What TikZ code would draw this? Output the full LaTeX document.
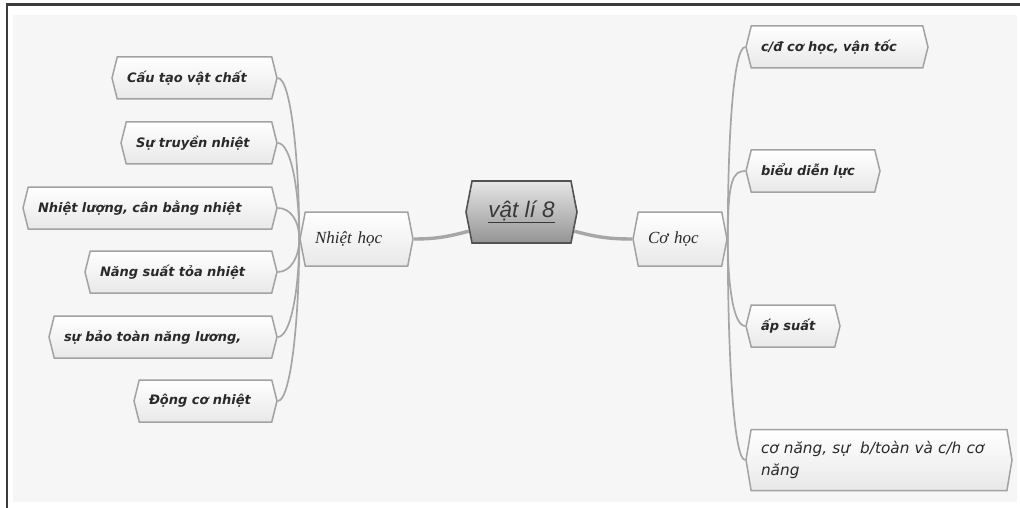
\documentclass[tikz,border=0pt]{standalone}
\usepackage{fontspec}
\usetikzlibrary{shapes.symbols}
\newfontfamily\kidfont{DejaVu Sans}
\newfontfamily\serifit{Liberation Serif}
\newfontfamily\titlefont{Liberation Sans}
\definecolor{panel}{HTML}{F6F6F6}
\definecolor{frame}{HTML}{3C3C3C}
\definecolor{linkc}{HTML}{A6A6A6}
\definecolor{boxline}{HTML}{A2A2A2}
\definecolor{txt}{HTML}{2A2A2A}
\tikzset{
  hexbase/.style={signal, signal to=west and east, inner sep=0pt,
    draw=boxline, line width=1.5pt, top color=white, bottom color=black!9,
    text=txt, align=left},
  child/.style={hexbase, signal pointer angle=152, minimum height=42pt,
    font=\kidfont\bfseries\itshape\fontsize{13}{15}\selectfont},
  branch/.style={hexbase, signal pointer angle=158, minimum height=54pt,
    font=\serifit\itshape\fontsize{17}{20}\selectfont},
  rootbox/.style={signal, signal to=west and east, inner sep=0pt,
    signal pointer angle=158, minimum height=62pt, minimum width=111pt,
    draw=black!68, line width=1.6pt, top color=black!10, bottom color=black!42,
    text=black!78, font=\titlefont\itshape\fontsize{22.5}{26}\selectfont},
  link/.style={draw=linkc, line width=1.7pt},
  mainlink/.style={draw=linkc, line width=3.4pt}
}
\begin{document}
\begin{tikzpicture}[x=1pt,y=1pt]
\useasboundingbox (0,0) rectangle (1020,-508);
\fill[white] (0,0) rectangle (1020,-508);
\fill[panel] (13,-15) rectangle (1017,-502);
\draw[frame, line width=2.5pt] (7,-508) -- (7,-4.5) -- (1020,-4.5);

% root and branches
\node[rootbox] (C) at (521.5,-212) {\underline{vật lí 8}};
\node[branch, minimum width=113pt, text width=83pt] (NH) at (356.5,-239) {Nhiệt học};
\node[branch, minimum width=94pt, text width=64pt] (CH) at (680,-239) {Cơ học};

% left children
\node[child, minimum width=165pt, text width=135pt] (L1) at (194.5,-78) {Cấu tạo vật chất};
\node[child, minimum width=156pt, text width=126pt] (L2) at (199,-143) {Sự truyền nhiệt};
\node[child, minimum width=254pt, text width=224pt] (L3) at (150,-208) {Nhiệt lượng, cân bằng nhiệt};
\node[child, minimum width=192pt, text width=162pt] (L4) at (181,-272) {Năng suất tỏa nhiệt};
\node[child, minimum width=228pt, text width=198pt] (L5) at (163,-337) {sự bảo toàn năng lương,};
\node[child, minimum width=143pt, text width=113pt] (L6) at (205.5,-401) {Động cơ nhiệt};

% right children
\node[child, minimum width=182pt, text width=152pt] (R1) at (837,-47) {c/đ cơ học, vận tốc};
\node[child, minimum width=134pt, text width=104pt] (R2) at (813,-171) {biểu diễn lực};
\node[child, minimum width=94pt, text width=64pt] (R3) at (793,-326) {ấp suất};
\node[child, signal pointer angle=161, minimum height=61pt, minimum width=266pt, text width=236pt,
  font=\kidfont\itshape\fontsize{15.3}{22}\selectfont] (R4) at (879,-460)
  {cơ năng, sự~ b/toàn và c/h cơ\\năng};

% connectors
\draw[mainlink] (NH.east) to[out=0, in=195] (C.200);
\draw[mainlink] (C.340) to[out=-15, in=180] (CH.west);

\foreach \n/\v in {L1/80, L2/50, L3/18, L4/-18, L5/-50, L6/-80}
  \draw[link] (\n.east) .. controls +(13,0) and +(0,\v) .. (NH.west);
\foreach \n/\v in {R1/100, R2/60, R3/-45, R4/-110}
  \draw[link] (CH.east) .. controls +(0,\v) and +(-12,0) .. (\n.west);
\end{tikzpicture}
\end{document}
